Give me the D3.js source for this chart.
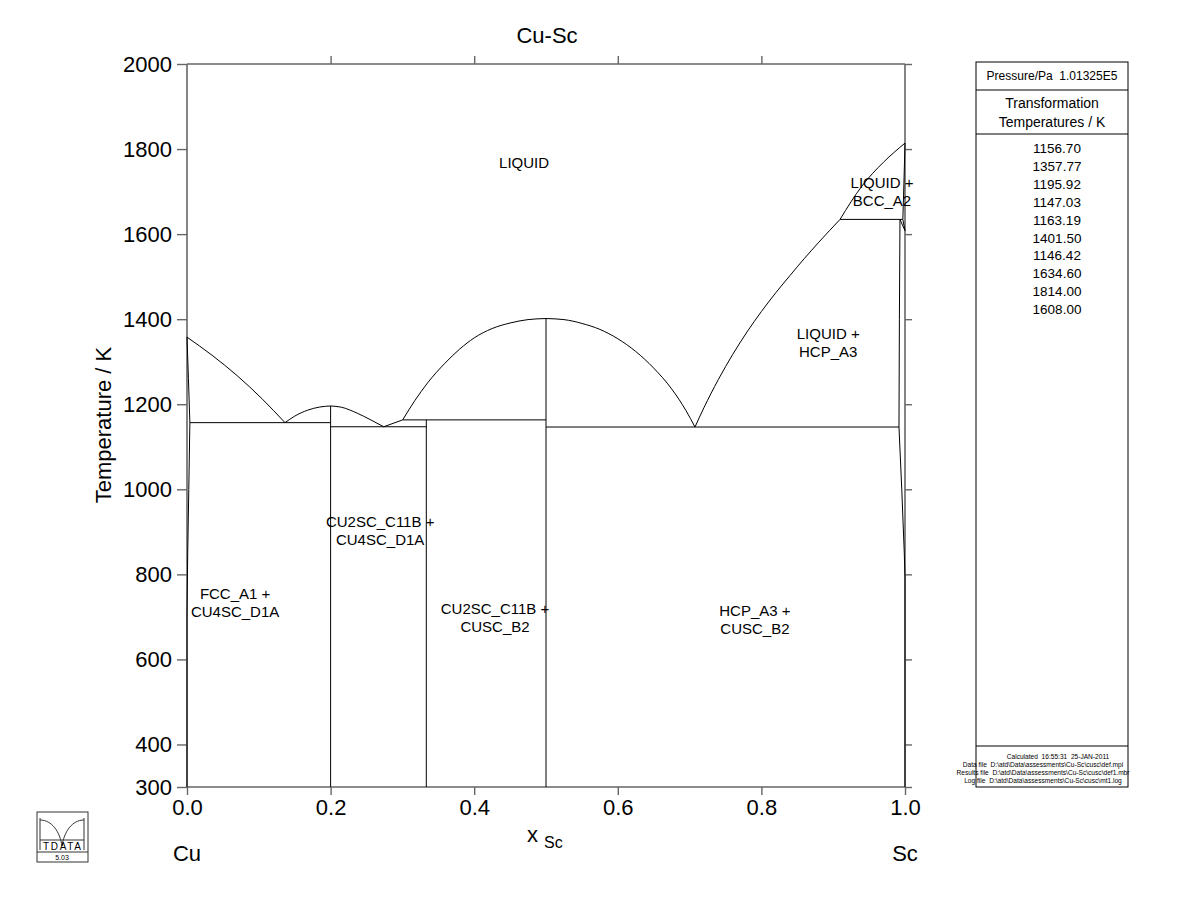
<!DOCTYPE html>
<html><head><meta charset="utf-8">
<script src="https://cdn.jsdelivr.net/npm/d3@7"></script>
<style>body{margin:0;background:#fff}svg{display:block;font-family:"Liberation Sans",Arial,sans-serif}text{white-space:pre}</style>
</head><body>
<svg id="c" width="1200" height="923"></svg>
<script>
// ---- data ----
const title = "Cu-Sc";
const xTicks = [0, 0.2, 0.4, 0.6, 0.8, 1.0];
const yTicks = [300, 400, 600, 800, 1000, 1200, 1400, 1600, 1800, 2000];
const transTemps = ["1156.70","1357.77","1195.92","1147.03","1163.19","1401.50","1146.42","1634.60","1814.00","1608.00"];
// curves [x_Sc, T/K]
const liqCu = [[0,1357.77],[0.035,1315],[0.07,1267],[0.105,1212],[0.1365,1156.7]];
const liqCu4Sc = [[0.1365,1156.7],[0.15,1172],[0.168,1186],[0.185,1193.5],[0.2,1195.92]];
const liqCu4ScR = [[0.2,1195.92],[0.215,1193],[0.237,1179],[0.255,1164],[0.274,1147.03]];
const liqCu2Sc = [[0.274,1147.03],[0.3004,1163.19]];
const liqCuScL = [[0.3004,1163.19],[0.3175,1209],[0.335,1250],[0.359,1296],[0.38,1330],[0.4,1356],[0.425,1378],[0.45,1391],[0.475,1399],[0.5,1401.5]];
const liqCuScR = [[0.5,1401.5],[0.525,1399],[0.55,1390],[0.575,1376],[0.6,1354],[0.625,1324],[0.65,1285],[0.675,1236],[0.695,1185],[0.7075,1146.42]];
const liqHcp = [[0.7075,1146.42],[0.72,1192],[0.74,1258],[0.76,1317],[0.78,1370],[0.8,1418],[0.82,1462],[0.84,1503],[0.86,1543],[0.88,1581],[0.9095,1634.6]];
const liqBcc = [[0.9095,1634.6],[0.94,1713],[0.97,1769],[1.0,1814]];
const fccSolidus = [[0,1357.77],[0.002,1260],[0.004,1156.7]];
const fccSolvus = [[0.004,1156.7],[0.0025,1000],[0.001,850],[0,700],[0,300]];
const bccSolidus = [[1.0,1814],[0.9985,1720],[0.997,1634.6]];
const bccHcpA = [[0.997,1634.6],[1.0,1608]];
const bccHcpB = [[0.993,1634.6],[1.0,1608]];
const hcpSolidus = [[0.993,1634.6],[0.9922,1400],[0.9916,1146.42]];
const hcpSolvus = [[0.9916,1146.42],[0.9955,1000],[0.999,850],[1.0,790],[1.0,300]];
const tieLines = [[0.004,0.2,1156.7],[0.2,0.3333,1147.03],[0.3004,0.5,1163.19],[0.5,0.9916,1146.42],[0.9095,0.997,1634.6]];
const compounds = [[0.2,1195.92],[0.3333,1163.19],[0.5,1401.5]];
const labels = [
  {x:0.4695, t:1755, lines:["LIQUID"]},
  {x:0.968, t:1708, lines:["LIQUID +","BCC_A2"]},
  {x:0.893, t:1353, lines:["LIQUID +","HCP_A3"]},
  {x:0.269, t:912, lines:["CU2SC_C11B +","CU4SC_D1A"]},
  {x:0.067, t:742, lines:["FCC_A1 +","CU4SC_D1A"]},
  {x:0.429, t:706, lines:["CU2SC_C11B +","CUSC_B2"]},
  {x:0.791, t:702, lines:["HCP_A3 +","CUSC_B2"]}
];
const footer = ["Calculated  16:55:31  25-JAN-2011",
  "Data file  D:\\atd\\Data\\assessments\\Cu-Sc\\cusc\\def.mpi",
  "Results file  D:\\atd\\Data\\assessments\\Cu-Sc\\cusc\\def1.mbr",
  "Log file  D:\\atd\\Data\\assessments\\Cu-Sc\\cusc\\mt1.log"];

// ---- drawing ----
const svg = d3.select("#c");
const x = d3.scaleLinear().domain([0,1]).range([187,905]);
const y = d3.scaleLinear().domain([300,2000]).range([787,64]);
const axisCol = "#666";

// frame
const g = svg.append("g").attr("stroke",axisCol).attr("stroke-width",1.6);
g.append("line").attr("x1",x(0)).attr("x2",x(1)).attr("y1",y(2000)).attr("y2",y(2000));
g.append("line").attr("x1",x(0)).attr("x2",x(1)).attr("y1",y(300)).attr("y2",y(300));
g.append("line").attr("x1",x(0)).attr("x2",x(0)).attr("y1",y(300)).attr("y2",y(2000));
g.append("line").attr("x1",x(1)).attr("x2",x(1)).attr("y1",y(300)).attr("y2",y(2000));

function styleAxis(sel){ sel.select(".domain").remove(); sel.selectAll(".tick line").attr("stroke",axisCol).attr("stroke-width",1.4); }
const yl = svg.append("g").attr("transform",`translate(${x(0)},0)`).call(d3.axisLeft(y).tickValues(yTicks).tickSize(10).tickPadding(5).tickFormat(d3.format("d")));
styleAxis(yl); yl.selectAll("text").attr("font-size",22).attr("fill","#000").attr("font-family","Liberation Sans, Arial");
const yr = svg.append("g").attr("transform",`translate(${x(1)},0)`).call(d3.axisRight(y).tickValues(yTicks).tickSize(7).tickFormat(""));
styleAxis(yr);
const xb = svg.append("g").attr("transform",`translate(0,${y(300)})`).call(d3.axisBottom(x).tickValues(xTicks).tickSize(8).tickPadding(4).tickFormat(d3.format(".1f")));
styleAxis(xb); xb.selectAll("text").attr("font-size",22).attr("fill","#000").attr("font-family","Liberation Sans, Arial");
const xt = svg.append("g").attr("transform",`translate(0,${y(2000)})`).call(d3.axisTop(x).tickValues(xTicks.slice(1,5)).tickSize(8).tickFormat(""));
styleAxis(xt);

// phase boundaries
const line = d3.line().x(d=>x(d[0])).y(d=>y(d[1]));
const smooth = d3.line().x(d=>x(d[0])).y(d=>y(d[1])).curve(d3.curveMonotoneX);
const pg = svg.append("g").attr("fill","none").attr("stroke","#000").attr("stroke-width",1);
[liqCu,liqCu4Sc,liqCu4ScR,liqCuScL,liqCuScR,liqHcp,liqBcc].forEach(c=>pg.append("path").attr("d",smooth(c)));
[liqCu2Sc,fccSolidus,fccSolvus,bccSolidus,bccHcpA,bccHcpB,hcpSolidus,hcpSolvus].forEach(c=>pg.append("path").attr("d",line(c)));
tieLines.forEach(t=>pg.append("line").attr("x1",x(t[0])).attr("x2",x(t[1])).attr("y1",y(t[2])).attr("y2",y(t[2])));
compounds.forEach(c=>pg.append("line").attr("x1",x(c[0])).attr("x2",x(c[0])).attr("y1",y(c[1])).attr("y2",y(300)));

// region labels
labels.forEach(l=>{
  const t = svg.append("text").attr("text-anchor","middle").attr("font-size",15).attr("fill","#000");
  l.lines.forEach((s,i)=>t.append("tspan").attr("x",x(l.x)).attr("y",y(l.t)+i*18).text(s));
});

// titles
svg.append("text").attr("x",547).attr("y",43).attr("text-anchor","middle").attr("font-size",22).text(title);
svg.append("text").attr("transform","translate(111,425) rotate(-90)").attr("text-anchor","middle").attr("font-size",22).text("Temperature / K");
const xl = svg.append("text").attr("x",527).attr("y",842).attr("font-size",22);
xl.append("tspan").text("x");
xl.append("tspan").attr("dx",6).attr("dy",6).attr("font-size",16).text("Sc");
svg.append("text").attr("x",x(0)).attr("y",861).attr("text-anchor","middle").attr("font-size",22).text("Cu");
svg.append("text").attr("x",x(1)).attr("y",861).attr("text-anchor","middle").attr("font-size",22).text("Sc");

// legend box
const L = svg.append("g");
L.append("rect").attr("x",976).attr("y",62).attr("width",152).attr("height",725).attr("fill","none").attr("stroke","#000").attr("stroke-width",1);
L.append("line").attr("x1",976).attr("x2",1128).attr("y1",90).attr("y2",90).attr("stroke","#000");
L.append("line").attr("x1",976).attr("x2",1128).attr("y1",134).attr("y2",134).attr("stroke","#000");
L.append("line").attr("x1",976).attr("x2",1128).attr("y1",746).attr("y2",746).attr("stroke","#000");
L.append("text").attr("x",1052).attr("y",80).attr("text-anchor","middle").attr("font-size",12).text("Pressure/Pa  1.01325E5");
L.append("text").attr("x",1052).attr("y",108).attr("text-anchor","middle").attr("font-size",14).text("Transformation");
L.append("text").attr("x",1052).attr("y",127).attr("text-anchor","middle").attr("font-size",14).text("Temperatures / K");
transTemps.forEach((v,i)=>L.append("text").attr("x",1057).attr("y",153+i*17.9).attr("text-anchor","middle").attr("font-size",13.5).text(v));
footer.forEach((s,i)=>L.append("text").attr("x",i==0?1058:1043).attr("y",759+i*8).attr("text-anchor","middle").attr("font-size",6.6).text(s));

// logo
const lg = svg.append("g").attr("fill","none").attr("stroke","#333").attr("stroke-width",1);
lg.append("rect").attr("x",37).attr("y",812).attr("width",51).attr("height",50);
lg.append("line").attr("x1",37).attr("x2",88).attr("y1",852).attr("y2",852);
lg.append("path").attr("d","M40,820 C52,820 60,832 62,846 M84,820 C72,820 64,832 62,846");
lg.append("line").attr("x1",40).attr("x2",40).attr("y1",818).attr("y2",850);
lg.append("line").attr("x1",84).attr("x2",84).attr("y1",818).attr("y2",850);
lg.append("line").attr("x1",40).attr("x2",84).attr("y1",840).attr("y2",840);
svg.append("text").attr("x",62).attr("y",850).attr("text-anchor","middle").attr("font-size",10).attr("textLength",38).text("TDATA");
svg.append("text").attr("x",62).attr("y",860).attr("text-anchor","middle").attr("font-size",7).text("5.03");
</script>
</body></html>
